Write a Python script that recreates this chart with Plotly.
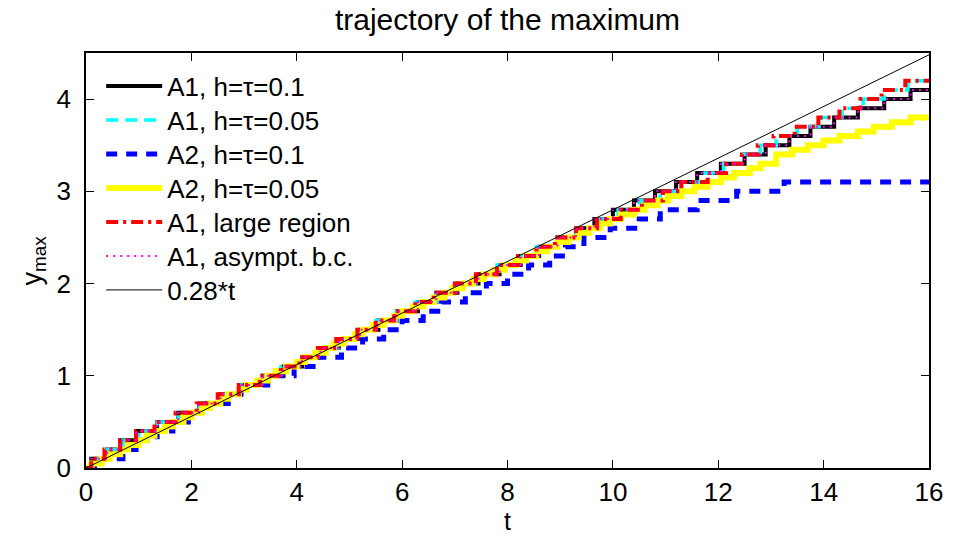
import plotly.graph_objects as go

# Time range of the simulation
T_END = 16.0

# A1, h=tau=0.1 : times at which y_max jumps to the next level
t_a1_01 = [0, 0.1, 0.4, 0.65, 0.95, 1.35, 1.75, 2.15, 2.55, 2.95, 3.35, 3.75, 4.1, 4.45,
           4.8, 5.2, 5.55, 5.9, 6.3, 6.65, 7.05, 7.45, 7.85, 8.25, 8.6, 8.95, 9.3, 9.65,
           10.0, 10.4, 10.8, 11.2, 11.6, 12.05, 12.5, 12.9, 13.35, 13.75, 14.2, 14.65,
           15.15, 15.65]
y_a1_01 = [0.0, 0.1, 0.2, 0.3, 0.4, 0.5, 0.6, 0.7, 0.8, 0.9, 1.0, 1.1, 1.2, 1.3, 1.4, 1.5,
           1.6, 1.7, 1.8, 1.9, 2.0, 2.1, 2.2, 2.3, 2.4, 2.5, 2.6, 2.7, 2.8, 2.9, 3.0, 3.1,
           3.2, 3.3, 3.4, 3.5, 3.6, 3.7, 3.8, 3.9, 4.0, 4.1]

# A1, h=tau=0.05
t_a1_005 = [0, 0.1, 0.4, 0.7, 1.0, 1.35, 1.75, 2.15, 2.55, 2.95, 3.35, 3.7, 4.1, 4.45,
            4.8, 5.15, 5.5, 5.9, 6.25, 6.65, 7.0, 7.4, 7.8, 8.2, 8.55, 8.95, 9.3, 9.7,
            10.1, 10.5, 10.9, 11.3, 11.75, 12.1, 12.45, 12.8, 13.1, 13.5, 13.95, 14.35,
            14.75, 15.15, 15.6]
y_a1_005 = [0.0, 0.1, 0.2, 0.3, 0.4, 0.5, 0.6, 0.7, 0.8, 0.9, 1.0, 1.1, 1.2, 1.3, 1.4, 1.5,
            1.6, 1.7, 1.8, 1.9, 2.0, 2.1, 2.2, 2.3, 2.4, 2.5, 2.6, 2.7, 2.8, 2.9, 3.0, 3.1,
            3.2, 3.3, 3.4, 3.5, 3.6, 3.7, 3.8, 3.9, 4.0, 4.1, 4.2]

# A2, h=tau=0.1
t_a2_01 = [0, 0.3, 0.7, 1.0, 1.35, 1.65, 2.0, 2.3, 2.7, 3.05, 3.45, 3.95, 4.4, 4.85, 5.25,
           5.65, 6.0, 6.4, 6.75, 7.2, 7.6, 8.0, 8.4, 8.8, 9.1, 9.45, 9.95, 10.5, 10.9,
           11.6, 12.35, 13.25]
y_a2_01 = [0.0, 0.1, 0.2, 0.3, 0.4, 0.5, 0.6, 0.7, 0.8, 0.9, 1.0, 1.1, 1.2, 1.3, 1.4, 1.5,
           1.6, 1.7, 1.8, 1.9, 2.0, 2.1, 2.2, 2.3, 2.4, 2.5, 2.6, 2.7, 2.8, 2.9, 3.0, 3.1]

# A2, h=tau=0.05
t_a2_005 = [0, 0.1, 0.3, 0.45, 0.65, 0.8, 1.0, 1.15, 1.3, 1.5, 1.65, 1.85, 2.0, 2.2, 2.35,
            2.55, 2.7, 2.9, 3.05, 3.25, 3.45, 3.6, 3.8, 4.0, 4.15, 4.35, 4.55, 4.7, 4.9,
            5.1, 5.25, 5.45, 5.65, 5.85, 6.0, 6.2, 6.4, 6.6, 6.8, 6.95, 7.15, 7.35, 7.55,
            7.75, 7.95, 8.15, 8.35, 8.55, 8.75, 8.95, 9.15, 9.35, 9.55, 9.75, 9.95, 10.15,
            10.4, 10.6, 10.85, 11.05, 11.3, 11.55, 11.8, 12.05, 12.3, 12.6, 12.8, 13.1,
            13.4, 13.7, 14.0, 14.3, 14.65, 14.95, 15.3, 15.65]
y_a2_005 = [0.0, 0.05, 0.1, 0.15, 0.2, 0.25, 0.3, 0.35, 0.4, 0.45, 0.5, 0.55, 0.6, 0.65,
            0.7, 0.75, 0.8, 0.85, 0.9, 0.95, 1.0, 1.05, 1.1, 1.15, 1.2, 1.25, 1.3, 1.35,
            1.4, 1.45, 1.5, 1.55, 1.6, 1.65, 1.7, 1.75, 1.8, 1.85, 1.9, 1.95, 2.0, 2.05,
            2.1, 2.15, 2.2, 2.25, 2.3, 2.35, 2.4, 2.45, 2.5, 2.55, 2.6, 2.65, 2.7, 2.75,
            2.8, 2.85, 2.9, 2.95, 3.0, 3.05, 3.1, 3.15, 3.2, 3.25, 3.3, 3.4, 3.45, 3.5,
            3.55, 3.6, 3.65, 3.7, 3.75, 3.8]

# A1, large region
t_a1_large = [0, 0.1, 0.35, 0.65, 0.95, 1.3, 1.7, 2.1, 2.5, 2.9, 3.3, 3.7, 4.05, 4.4, 4.75,
              5.15, 5.5, 5.85, 6.25, 6.6, 7.0, 7.4, 7.8, 8.2, 8.55, 8.9, 9.3, 9.7, 10.15,
              10.55, 10.95, 11.3, 11.8, 12.15, 12.45, 12.75, 13.05, 13.45, 13.9, 14.3,
              14.7, 15.1, 15.55]
y_a1_large = [0.0, 0.1, 0.2, 0.3, 0.4, 0.5, 0.6, 0.7, 0.8, 0.9, 1.0, 1.1, 1.2, 1.3, 1.4,
              1.5, 1.6, 1.7, 1.8, 1.9, 2.0, 2.1, 2.2, 2.3, 2.4, 2.5, 2.6, 2.7, 2.8, 2.9,
              3.0, 3.1, 3.2, 3.3, 3.4, 3.5, 3.6, 3.7, 3.8, 3.9, 4.0, 4.1, 4.2]

# A1, asymptotic boundary condition
t_a1_asym = [0, 0.1, 0.4, 0.65, 0.95, 1.35, 1.75, 2.15, 2.55, 2.95, 3.35, 3.75, 4.1, 4.45,
             4.8, 5.2, 5.55, 5.9, 6.3, 6.65, 7.05, 7.45, 7.85, 8.25, 8.6, 8.95, 9.3, 9.65,
             10.0, 10.4, 10.8, 11.2, 11.6, 12.05, 12.5, 12.9, 13.35, 13.75, 14.2, 14.65,
             15.15, 15.65]
y_a1_asym = [0.0, 0.1, 0.2, 0.3, 0.4, 0.5, 0.6, 0.7, 0.8, 0.9, 1.0, 1.1, 1.2, 1.3, 1.4,
             1.5, 1.6, 1.7, 1.8, 1.9, 2.0, 2.1, 2.2, 2.3, 2.4, 2.5, 2.6, 2.7, 2.8, 2.9,
             3.0, 3.1, 3.2, 3.3, 3.4, 3.5, 3.6, 3.7, 3.8, 3.9, 4.0, 4.1]

# Reference speed of the linear fit
SPEED = 0.28
t_lin = [0.0, T_END]

FONT = "Liberation Sans, Arial, Helvetica, sans-serif"

# Plot-area geometry in pixels (used to place the legend rows and axis labels)
PLOT_H, PLOT_W, MARGIN_B = 415, 843, 68
ROW0, ROW_GAP = 86 - 53, 34   # first legend row below the top of the axes, row spacing


def stairs(name, ts, ys, color, width, dash, legend):
    """Piecewise-constant trajectory, held up to the final time."""
    return go.Scatter(
        x=list(ts) + [T_END], y=list(ys) + [ys[-1]],
        mode="lines", line_shape="hv", name=name, legend=legend,
        line=dict(color=color, width=width, dash=dash),
    )


fig = go.Figure()
fig.add_trace(stairs("A1, h=τ=0.1", t_a1_01, y_a1_01, "#000000", 4, "solid", "legend"))
fig.add_trace(stairs("A1, h=τ=0.05", t_a1_005, y_a1_005, "#00FFFF", 3.5, "12px,7px",
                     "legend2"))
fig.add_trace(stairs("A2, h=τ=0.1", t_a2_01, y_a2_01, "#0000FF", 5, "11px,9px", "legend3"))
fig.add_trace(stairs("A2, h=τ=0.05", t_a2_005, y_a2_005, "#FFFF00", 6, "solid", "legend4"))
fig.add_trace(stairs("A1, large region", t_a1_large, y_a1_large, "#FF0000", 4,
                     "12px,5px,3px,5px", "legend5"))
fig.add_trace(stairs("A1, asympt. b.c.", t_a1_asym, y_a1_asym, "#FF00FF", 2, "2px,5px",
                     "legend6"))
fig.add_trace(go.Scatter(
    x=t_lin, y=[SPEED * t for t in t_lin], mode="lines", name="0.28*t", legend="legend7",
    line=dict(color="#000000", width=1),
))

# One single-entry legend per row so the rows sit at a fixed spacing
legends = {}
for i, key in enumerate(["legend", "legend2", "legend3", "legend4", "legend5",
                         "legend6", "legend7"]):
    legends[key] = dict(
        x=0.018, y=1 - (ROW0 + i * ROW_GAP) / PLOT_H, xanchor="left", yanchor="middle",
        bgcolor="rgba(255,255,255,0)", borderwidth=0,
        font=dict(family=FONT, size=26, color="black"),
        itemwidth=56,
    )

axis_common = dict(
    showline=True, linecolor="black", linewidth=1.5, mirror="allticks",
    ticks="inside", ticklen=8, tickwidth=1, tickcolor="black",
    showgrid=False, zeroline=False,
    tickfont=dict(family=FONT, size=26, color="black"),
)

fig.update_layout(
    width=966, height=536,
    margin=dict(l=86, r=37, t=53, b=MARGIN_B),
    paper_bgcolor="white", plot_bgcolor="white",
    font=dict(family=FONT, color="black"),
    showlegend=True,
    title=dict(
        text="trajectory of the maximum", x=0.5, xref="paper",
        y=1 - 19 / 536, yref="container", yanchor="middle",
        font=dict(family=FONT, size=30, color="black"),
    ),
    xaxis=dict(range=[0, T_END], dtick=2, tick0=0, ticklabelstandoff=0, **axis_common),
    yaxis=dict(range=[0, 4.5], dtick=1, tick0=0, ticklabelstandoff=8, **axis_common),
    annotations=[
        dict(text="t", xref="paper", yref="paper", x=0.5, y=-MARGIN_B / PLOT_H,
             xanchor="center", yanchor="bottom", showarrow=False, borderpad=0,
             font=dict(family=FONT, size=25, color="black")),
        dict(text="y<sub>max</sub>", xref="paper", yref="paper", x=-53 / PLOT_W, y=0.5,
             xanchor="center", yanchor="middle", textangle=-90, showarrow=False,
             font=dict(family=FONT, size=27, color="black")),
    ],
    **legends,
)

fig.write_html("out.html")
